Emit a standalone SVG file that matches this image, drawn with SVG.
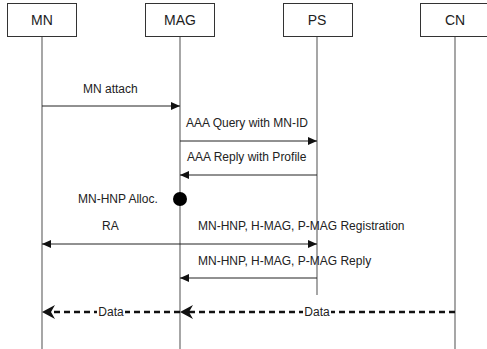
<svg xmlns="http://www.w3.org/2000/svg" width="487" height="349" viewBox="0 0 487 349">
<style>
.box{fill:#fff;stroke:#333;stroke-width:1}
.bt{font-family:"Liberation Sans",Arial,sans-serif;font-size:14px;fill:#222;text-anchor:middle}
.life{stroke:#777;stroke-width:1.3;fill:none}
.msg{stroke:#222;stroke-width:1;fill:none}
.lt{font-family:"Liberation Sans",Arial,sans-serif;font-size:12px;fill:#222}
.data{stroke:#111;stroke-width:2.5;stroke-dasharray:6,4;fill:none}
.dh{fill:#111}
</style>
<defs>
<marker id="ah" markerWidth="10" markerHeight="8" refX="9" refY="4" orient="auto-start-reverse" markerUnits="userSpaceOnUse">
<path d="M0,0 L9,4 L0,8 Z" fill="#111"/>
</marker>
</defs>
<g id="MN"><rect class="box" x="7.5" y="3.5" width="69" height="33"/><text class="bt" x="42" y="25">MN</text><line class="life" x1="42" y1="37" x2="42" y2="349"/></g>
<g id="MAG"><rect class="box" x="145.5" y="3.5" width="69" height="33"/><text class="bt" x="180" y="25">MAG</text><line class="life" x1="180" y1="37" x2="180" y2="349"/></g>
<g id="PS"><rect class="box" x="283.5" y="3.5" width="69" height="33"/><text class="bt" x="317" y="25">PS</text><line class="life" x1="317" y1="37" x2="317" y2="295"/></g>
<g id="CN"><rect class="box" x="420.5" y="3.5" width="70" height="33"/><text class="bt" x="455" y="25">CN</text><line class="life" x1="455" y1="37" x2="455" y2="349"/></g>
<g id="connectors">
<line class="msg" x1="42" y1="106" x2="180" y2="106" marker-end="url(#ah)"/>
<text class="lt" x="83" y="93">MN attach</text>
<line class="msg" x1="180" y1="141" x2="317" y2="141" marker-end="url(#ah)"/>
<text class="lt" x="186" y="127">AAA Query with MN-ID</text>
<line class="msg" x1="317" y1="175" x2="180" y2="175" marker-end="url(#ah)"/>
<text class="lt" x="187" y="161">AAA Reply with Profile</text>
<circle cx="180" cy="199" r="7" fill="#000"/>
<text class="lt" x="78" y="203">MN-HNP Alloc.</text>
<text class="lt" x="102" y="230">RA</text>
<text class="lt" x="198" y="230">MN-HNP, H-MAG, P-MAG Registration</text>
<line class="msg" x1="42" y1="244" x2="317" y2="244" marker-start="url(#ah)" marker-end="url(#ah)"/>
<text class="lt" x="198" y="265">MN-HNP, H-MAG, P-MAG Reply</text>
<line class="msg" x1="317" y1="278" x2="180" y2="278" marker-end="url(#ah)"/>
<line class="data" x1="455" y1="312" x2="188" y2="312"/>
<line class="data" x1="180" y1="312" x2="50" y2="312"/>
<path class="dh" d="M180,312 L193,305 L189,312 L193,319 Z"/>
<path class="dh" d="M42,312 L55,305 L51,312 L55,319 Z"/>
<rect x="97" y="305" width="28" height="14" fill="#fff"/>
<text class="lt" x="111" y="316" text-anchor="middle" font-size="11.5">Data</text>
<rect x="303" y="305" width="28" height="14" fill="#fff"/>
<text class="lt" x="317" y="316" text-anchor="middle" font-size="11.5">Data</text>
</g>
</svg>
